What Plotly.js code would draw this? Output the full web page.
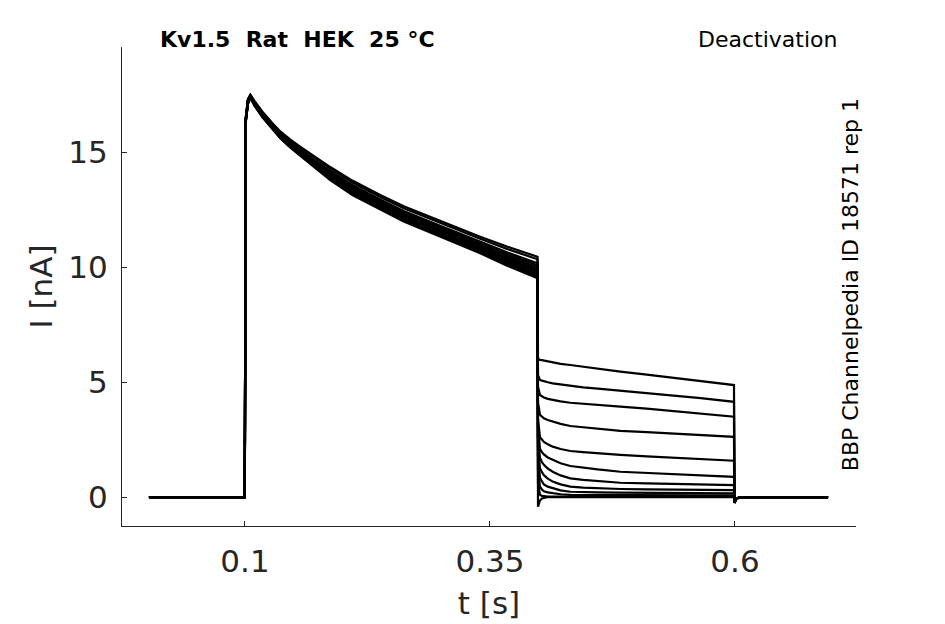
<!DOCTYPE html>
<html>
<head>
<meta charset="utf-8">
<script src="https://cdn.plot.ly/plotly-3.0.1.min.js"></script>
<style>html,body{margin:0;padding:0;background:#fff;}#chart{width:945px;height:624px;}</style>
</head>
<body>
<div id="chart"></div>
<script>
// Shared sample times [s]
const time_s = [0.002, 0.0998, 0.1008, 0.103, 0.1055, 0.11, 0.118, 0.127, 0.136, 0.146, 0.157, 0.17, 0.187, 0.21,
  0.238, 0.262, 0.289, 0.315, 0.34, 0.368, 0.3985,
  0.399, 0.4, 0.401, 0.403, 0.405, 0.409, 0.414, 0.422, 0.432, 0.445, 0.46, 0.483, 0.51, 0.534, 0.565, 0.599,
  0.5995, 0.6015, 0.605, 0.695];

// Currents [nA] per sweep
const sweep01 = [0, 0, 16.5, 17.3, 17.5, 17.2, 16.75, 16.3, 15.9, 15.55, 15.22, 14.83, 14.35, 13.75, 13.13, 12.64, 12.17, 11.74, 11.32, 10.88, 10.45,
  6.05, 6.0, 5.96, 5.95, 5.93, 5.89, 5.84, 5.79, 5.74, 5.66, 5.58, 5.45, 5.32, 5.20, 5.05, 4.87, -0.25, -0.08, 0, 0];
const sweep02 = [0, 0, 16.5, 17.3, 17.48, 17.18, 16.72, 16.27, 15.86, 15.51, 15.17, 14.77, 14.28, 13.67, 13.05, 12.56, 12.09, 11.66, 11.23, 10.78, 10.34,
  5.3, 5.2, 5.09, 5.06, 5.03, 4.99, 4.94, 4.89, 4.83, 4.77, 4.71, 4.62, 4.52, 4.43, 4.3, 4.14, -0.25, -0.08, 0, 0];
const sweep03 = [0, 0, 16.45, 17.25, 17.46, 17.14, 16.68, 16.22, 15.81, 15.45, 15.1, 14.68, 14.18, 13.56, 12.94, 12.44, 11.97, 11.53, 11.1, 10.63, 10.17,
  4.8, 4.62, 4.43, 4.38, 4.33, 4.27, 4.22, 4.16, 4.10, 4.05, 4.0, 3.93, 3.84, 3.75, 3.63, 3.49, -0.25, -0.08, 0, 0];
const sweep04 = [0, 0, 16.45, 17.25, 17.44, 17.12, 16.65, 16.19, 15.78, 15.41, 15.06, 14.63, 14.12, 13.5, 12.88, 12.38, 11.9, 11.46, 11.03, 10.55, 10.08,
  4.1, 3.85, 3.57, 3.5, 3.42, 3.35, 3.28, 3.18, 3.09, 3.03, 2.97, 2.88, 2.82, 2.77, 2.7, 2.62, -0.25, -0.08, 0, 0];
const sweep05 = [0, 0, 16.4, 17.2, 17.43, 17.1, 16.63, 16.17, 15.75, 15.38, 15.02, 14.58, 14.07, 13.44, 12.82, 12.31, 11.84, 11.39, 10.96, 10.47, 9.99,
  3.4, 3.0, 2.6, 2.5, 2.4, 2.29, 2.19, 2.09, 2.0, 1.95, 1.9, 1.83, 1.77, 1.71, 1.65, 1.58, -0.25, -0.08, 0, 0];
const sweep06 = [0, 0, 16.4, 17.2, 17.41, 17.08, 16.61, 16.14, 15.73, 15.35, 14.99, 14.54, 14.02, 13.39, 12.77, 12.26, 11.78, 11.33, 10.9, 10.4, 9.91,
  3.0, 2.6, 2.1, 1.95, 1.85, 1.72, 1.61, 1.47, 1.35, 1.27, 1.2, 1.10, 1.05, 1.0, 0.94, 0.88, -0.25, -0.08, 0, 0];
const sweep07 = [0, 0, 16.4, 17.2, 17.4, 17.07, 16.59, 16.12, 15.7, 15.32, 14.96, 14.5, 13.97, 13.33, 12.71, 12.2, 11.73, 11.28, 10.85, 10.33, 9.84,
  2.6, 2.2, 1.7, 1.52, 1.4, 1.24, 1.10, 0.94, 0.81, 0.75, 0.7, 0.62, 0.59, 0.57, 0.55, 0.52, -0.25, -0.08, 0, 0];
const sweep08 = [0, 0, 16.35, 17.15, 17.39, 17.05, 16.57, 16.1, 15.68, 15.29, 14.92, 14.46, 13.93, 13.28, 12.66, 12.15, 11.67, 11.22, 10.79, 10.27, 9.76,
  2.2, 1.8, 1.25, 1.08, 0.95, 0.8, 0.67, 0.55, 0.45, 0.41, 0.38, 0.35, 0.33, 0.32, 0.31, 0.30, -0.25, -0.08, 0, 0];
const sweep09 = [0, 0, 16.35, 17.15, 17.38, 17.04, 16.55, 16.08, 15.65, 15.26, 14.89, 14.42, 13.88, 13.23, 12.61, 12.1, 11.62, 11.17, 10.73, 10.2, 9.69,
  1.8, 1.4, 0.85, 0.68, 0.55, 0.45, 0.38, 0.29, 0.23, 0.21, 0.2, 0.19, 0.18, 0.17, 0.16, 0.16, -0.25, -0.08, 0, 0];
const sweep10 = [0, 0, 16.3, 17.1, 17.37, 17.02, 16.53, 16.06, 15.64, 15.24, 14.87, 14.39, 13.85, 13.2, 12.58, 12.06, 11.58, 11.12, 10.69, 10.15, 9.63,
  1.2, 0.9, 0.45, 0.33, 0.25, 0.2, 0.16, 0.12, 0.09, 0.085, 0.08, 0.07, 0.07, 0.07, 0.07, 0.07, -0.25, -0.08, 0, 0];
const sweep11 = [0, 0, 16.3, 17.1, 17.36, 17.01, 16.52, 16.05, 15.62, 15.22, 14.84, 14.36, 13.81, 13.16, 12.54, 12.02, 11.54, 11.08, 10.64, 10.1, 9.58,
  0.6, 0.4, 0.1, 0.05, 0.03, 0.02, 0.02, 0.02, 0.02, 0.02, 0.02, 0.02, 0.02, 0.02, 0.02, 0.02, -0.25, -0.08, 0, 0];
const sweep12 = [0, 0, 16.3, 17.1, 17.35, 17.0, 16.5, 16.03, 15.6, 15.2, 14.82, 14.33, 13.78, 13.12, 12.5, 11.98, 11.5, 11.04, 10.6, 10.05, 9.52,
  -0.42, -0.3, -0.15, -0.06, -0.03, 0, 0, 0, 0, 0, 0, 0, 0, 0, 0, 0, -0.25, -0.08, 0, 0];

const sweeps = [sweep01, sweep02, sweep03, sweep04, sweep05, sweep06, sweep07, sweep08, sweep09, sweep10, sweep11, sweep12];

const xTickVals = [0.1, 0.35, 0.6];
const xTickText = ['0.1', '0.35', '0.6'];
const yTickVals = [0, 5, 10, 15];
const yTickText = ['0', '5', '10', '15'];

const titleLeft = 'Kv1.5\u00a0\u00a0Rat\u00a0\u00a0HEK\u00a0\u00a025\u00a0°C';
const titleRight = 'Deactivation';
const sideLabel = 'BBP Channelpedia ID 18571 rep 1';

const FONT = 'DejaVu Sans, sans-serif';
const AX = '#262626';

const traces = sweeps.map(y => ({
  x: time_s, y: y, type: 'scatter', mode: 'lines',
  line: {color: '#000', width: 2.2}, hoverinfo: 'skip', showlegend: false
}));

const layout = {
  width: 945, height: 624,
  margin: {l: 122, r: 89, t: 47, b: 98},
  paper_bgcolor: '#fff', plot_bgcolor: '#fff',
  font: {family: FONT, color: AX},
  xaxis: {
    range: [-0.0255, 0.7235], tickvals: xTickVals, ticktext: xTickText,
    ticks: 'inside', ticklen: 5, tickcolor: AX, showline: true, linecolor: AX, linewidth: 1,
    showgrid: false, zeroline: false, tickfont: {size: 31, color: AX, family: FONT}, ticklabelstandoff: 8,
    title: {text: 't [s]', font: {size: 31, color: AX, family: FONT}, standoff: 14}
  },
  yaxis: {
    range: [-1.26, 19.57], tickvals: yTickVals, ticktext: yTickText,
    ticks: 'inside', ticklen: 5, tickcolor: AX, showline: true, linecolor: AX, linewidth: 1,
    showgrid: false, zeroline: false, tickfont: {size: 31, color: AX, family: FONT}, ticklabelstandoff: 7,
    title: {text: 'I [nA]', font: {size: 31, color: AX, family: FONT}, standoff: 6}
  },
  annotations: [
    {text: '<b>' + titleLeft + '</b>', xref: 'paper', yref: 'paper', x: 0.049, y: 1.0167, xanchor: 'left', yanchor: 'middle',
      showarrow: false, font: {size: 22, color: '#000', family: FONT}},
    {text: titleRight, xref: 'paper', yref: 'paper', x: 0.977, y: 1.0167, xanchor: 'right', yanchor: 'middle',
      showarrow: false, font: {size: 22, color: '#000', family: FONT}},
    {text: sideLabel, xref: 'paper', yref: 'paper', x: 0.992, y: 0.503, xanchor: 'center', yanchor: 'middle',
      textangle: -90, showarrow: false, font: {size: 22, color: '#000', family: FONT}}
  ]
};

Plotly.newPlot('chart', traces, layout, {displayModeBar: false, staticPlot: true});
</script>
</body>
</html>
